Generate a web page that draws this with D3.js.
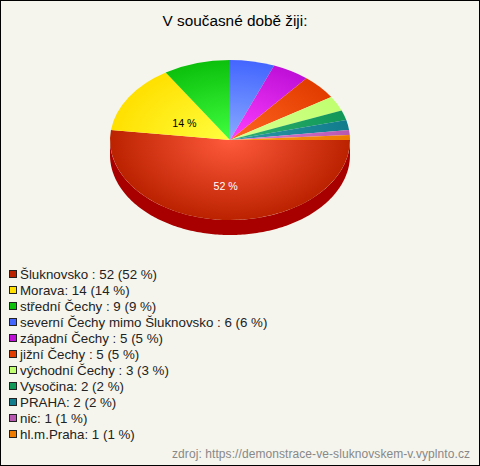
<!DOCTYPE html>
<html><head><meta charset="utf-8">
<script src="https://cdn.jsdelivr.net/npm/d3@7"></script>
<style>html,body{margin:0;padding:0;background:#f5f5ed}svg{display:block}text{font-family:"Liberation Sans",Arial,sans-serif}</style>
</head><body><div id="c"></div>
<script>
const categories=["Šluknovsko ","Morava","střední Čechy ","severní Čechy mimo Šluknovsko ","západní Čechy ","jižní Čechy ","východní Čechy ","Vysočina","PRAHA","nic","hl.m.Praha"];
const values=[52,14,9,6,5,5,3,2,2,1,1];
const baseColors=["#bb2200","#ffe000","#0cc00c","#4466ff","#bf10d8","#e23c00","#c0ff70","#109858","#107c8c","#b858b0","#ee7a00"];
const lightColors=["#ff5a3c","#ffff40","#40ff40","#88aaff","#ff40ff","#ff6622","#d8ff90","#30b070","#3098a8","#e080d8","#ff9920"];
const sideColor="#a80000";
const labelled=[0,1];
const W=480,H=466,cx=230,cy=140,rx=120,ry=80,depth=15;
const svg=d3.select("#c").append("svg").attr("width",W).attr("height",H);
svg.append("rect").attr("x",.5).attr("y",.5).attr("width",W-1).attr("height",H-1).attr("fill","#f5f5ed").attr("stroke","#000").attr("stroke-width",1);
svg.append("text").attr("x",235).attr("y",26).attr("text-anchor","middle").attr("font-size",15.33).attr("fill","#000").text("V současné době žiji:");
const defs=svg.append("defs");
categories.forEach((c,i)=>{
  const g=defs.append("radialGradient").attr("id","g"+i).attr("gradientUnits","userSpaceOnUse").attr("cx",0).attr("cy",0).attr("r",1);
  g.append("stop").attr("offset","0%").attr("stop-color",lightColors[i]);
  g.append("stop").attr("offset","100%").attr("stop-color",baseColors[i]);
});
const arcs=d3.pie().sort(null).startAngle(Math.PI/2).endAngle(Math.PI*2.5)(values);
const ax=d3.scaleLinear().domain([0,1]).range([0,rx]);
const ay=d3.scaleLinear().domain([0,1]).range([0,ry]);
const px=a=>cx+ax(Math.sin(a)), py=a=>cy-ay(Math.cos(a));
const lo=Math.PI/2, hi=Math.PI*1.5;
const side=d3.area().x(a=>px(a)).y0(a=>py(a)).y1(a=>py(a)+depth);
svg.append("path").attr("d",side(d3.range(lo,hi+0.01,Math.PI/180))).attr("fill",sideColor);
const pieG=svg.append("g").attr("transform",`translate(${cx},${cy}) scale(${rx},${-ry})`);
const pieArc=d3.arc().innerRadius(0).outerRadius(1);
pieG.selectAll("path").data(arcs).join("path")
  .attr("d",d=>pieArc({...d}))
  .attr("transform","scale(1,-1)")
  .attr("fill",(d,i)=>`url(#g${i})`);
const fmt=v=>v+" %";
labelled.forEach(i=>{
  const d=arcs[i],m=(d.startAngle+d.endAngle)/2,r=i===0?0.57:0.45,dy=i===0?4:6;
  svg.append("text").attr("x",cx+ax(Math.sin(m))*r).attr("y",cy-ay(Math.cos(m))*r+dy)
    .attr("text-anchor","middle").attr("font-size",10.67).attr("fill",i===0?"#fff":"#000").text(fmt(values[i]));
});
const rowY=d3.scalePoint().domain(d3.range(categories.length)).range([274,434]);
const leg=svg.append("g").selectAll("g").data(categories).join("g").attr("transform",(c,i)=>`translate(0,${rowY(i)})`);
leg.append("rect").attr("x",9.5).attr("y",-3.5).attr("width",7).attr("height",7).attr("fill",(c,i)=>baseColors[i]).attr("stroke","#222").attr("stroke-width",1);
leg.append("text").attr("x",20).attr("y",4.5).attr("font-size",13.33).attr("fill","#222").text((c,i)=>`${c}: ${values[i]} (${values[i]} %)`);
svg.append("text").attr("x",470).attr("y",458).attr("text-anchor","end").attr("font-size",12).attr("fill","#888").attr("textLength",298).text("zdroj: https://demonstrace-ve-sluknovskem-v.vyplnto.cz");
</script></body></html>
